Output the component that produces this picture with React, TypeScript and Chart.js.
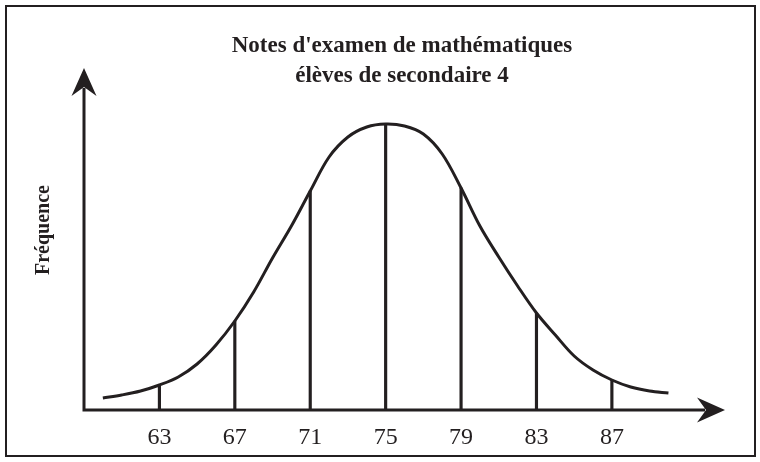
import { useEffect, useRef } from "react";
import { Chart, registerables } from "chart.js";

Chart.register(...registerables);

// Distribution of exam marks (x = mark, y = relative frequency)
const notes = [
  60, 61, 62, 63, 64, 65, 66, 67, 68, 69, 70, 71, 72, 73, 74, 75,
  76, 77, 78, 79, 80, 81, 82, 83, 84, 85, 86, 87, 88, 89, 90,
];
const frequences = [
  12, 15, 19, 25, 33, 46, 65, 89, 118, 152, 184, 219, 253, 273, 283, 286,
  284, 276, 256, 222, 184, 153, 124, 97, 75, 54, 40, 30, 23, 19, 17,
];

// Marks that get a vertical reference line and a tick label
const notesReperes = [63, 67, 71, 75, 79, 83, 87];

const titre = ["Notes d'examen de mathématiques", "élèves de secondaire 4"];
const titreAxeY = "Fréquence";

const INK = "#231f20";
const SERIF = "'Liberation Serif', 'Times New Roman', serif";

function arrowHead(
  ctx: CanvasRenderingContext2D,
  tipX: number,
  tipY: number,
  dirX: number,
  dirY: number
) {
  const len = 28;
  const half = 12.5;
  const notch = 19;
  const px = -dirY;
  const py = dirX;
  ctx.beginPath();
  ctx.moveTo(tipX, tipY);
  ctx.lineTo(tipX - dirX * len + px * half, tipY - dirY * len + py * half);
  ctx.lineTo(tipX - dirX * notch, tipY - dirY * notch);
  ctx.lineTo(tipX - dirX * len - px * half, tipY - dirY * len - py * half);
  ctx.closePath();
  ctx.fill();
}

const decor = {
  id: "decor",
  afterDraw(chart: Chart) {
    const { ctx, chartArea } = chart;
    const { left, right, top, bottom } = chartArea;
    const xScale = chart.scales.x;
    ctx.save();

    // outer frame
    ctx.strokeStyle = INK;
    ctx.lineWidth = 2;
    ctx.strokeRect(6, 6, 749, 450);

    // axes with arrowheads
    ctx.fillStyle = INK;
    ctx.lineWidth = 3;
    ctx.lineCap = "butt";
    ctx.beginPath();
    ctx.moveTo(left, bottom + 1.5);
    ctx.lineTo(left, top + 20);
    ctx.moveTo(left - 1.5, bottom);
    ctx.lineTo(right - 20, bottom);
    ctx.stroke();
    arrowHead(ctx, left, top, 0, -1);
    arrowHead(ctx, right, bottom, 1, 0);

    ctx.fillStyle = INK;
    ctx.textAlign = "center";
    ctx.textBaseline = "middle";

    // mark labels under the horizontal axis
    ctx.font = `24px ${SERIF}`;
    notesReperes.forEach((n) => {
      ctx.fillText(String(n), xScale.getPixelForValue(n), bottom + 28);
    });

    // title
    ctx.font = `bold 23px ${SERIF}`;
    ctx.fillText(titre[0], 402, 46);
    ctx.fillText(titre[1], 402, 76);

    // vertical axis title
    ctx.translate(44, 230);
    ctx.rotate(-Math.PI / 2);
    ctx.font = `bold 20px ${SERIF}`;
    ctx.fillText(titreAxeY, 0, 0);

    ctx.restore();
  },
};

export default function App() {
  const canvasRef = useRef<HTMLCanvasElement | null>(null);

  useEffect(() => {
    const canvas = canvasRef.current;
    if (!canvas) return;

    const courbe = notes.map((x, i) => ({ x, y: frequences[i] }));
    const reperes = notesReperes.map((n) => ({
      x: n,
      y: frequences[notes.indexOf(n)],
    }));

    const chart = new Chart(canvas, {
      type: "line",
      data: {
        datasets: [
          {
            type: "line",
            data: courbe,
            borderColor: INK,
            borderWidth: 3,
            pointRadius: 0,
            fill: false,
            tension: 0.35,
          },
          {
            type: "bar",
            data: reperes,
            backgroundColor: INK,
            barThickness: 2.5,
          },
        ],
      },
      options: {
        responsive: false,
        animation: false,
        layout: { padding: { left: 84, right: 35, top: 68, bottom: 52 } },
        plugins: {
          legend: { display: false },
          tooltip: { enabled: false },
          title: { display: false },
        },
        scales: {
          x: { type: "linear", display: false, min: 59, max: 93, offset: false },
          y: { display: false, min: 0, max: 342 },
        },
      },
      plugins: [decor],
    });

    return () => chart.destroy();
  }, []);

  return (
    <div
      style={{
        position: "fixed",
        left: 0,
        top: 0,
        width: 760,
        height: 462,
        background: "#fff",
      }}
    >
      <canvas ref={canvasRef} width={760} height={462} />
    </div>
  );
}
